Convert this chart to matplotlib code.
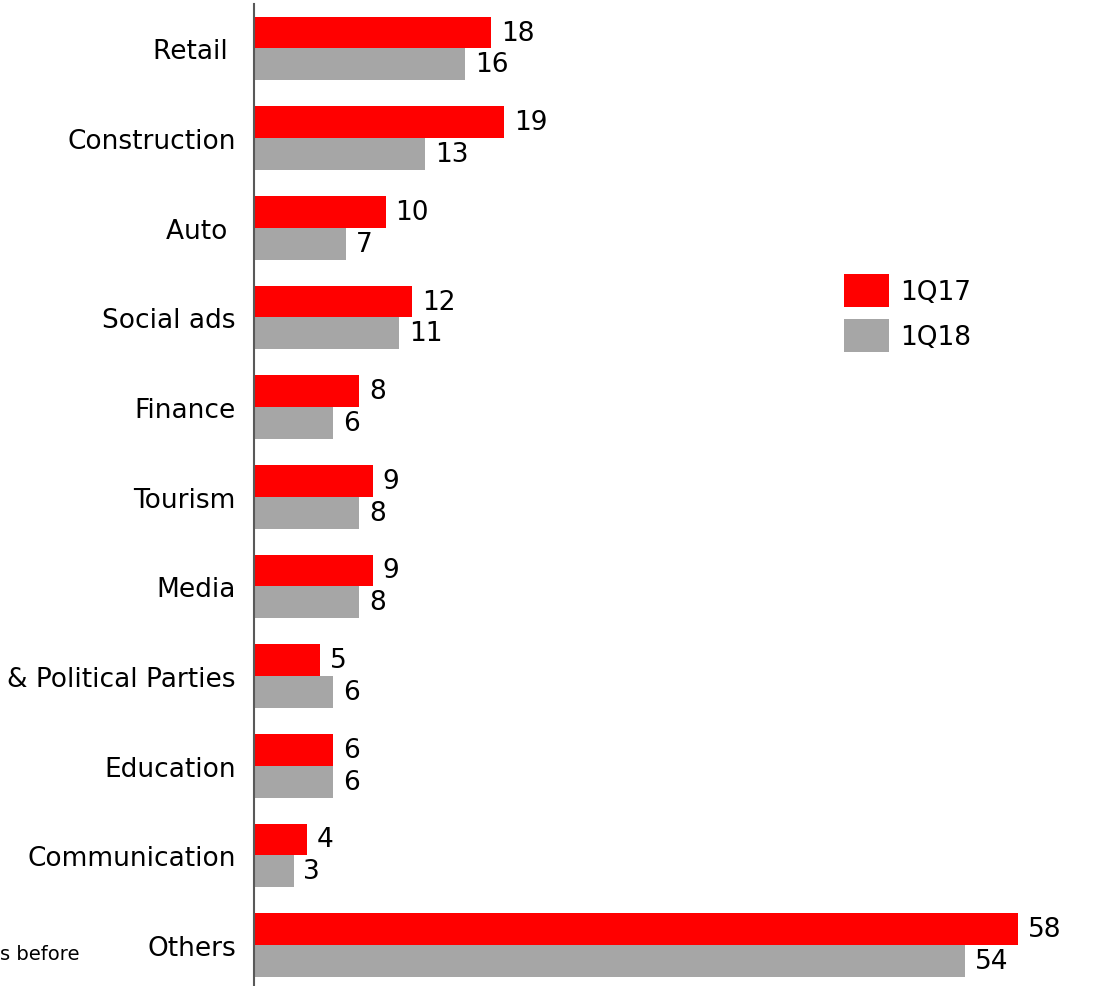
"""Horizontal grouped bars: ad spend share by sector, 1Q17 vs 1Q18."""

import matplotlib
matplotlib.use("Agg")
import matplotlib.pyplot as plt
import numpy as np


categories = ["Retail ", "Construction", "Auto ", "Social ads", "Finance", "Tourism",
              "Media", "& Political Parties", "Education", "Communication", "Others"]
q17 = [18, 19, 10, 12, 8, 9, 9, 5, 6, 4, 58]
q18 = [16, 13, 7, 11, 6, 8, 8, 6, 6, 3, 54]
series_names = ["1Q17", "1Q18"]

RED = "#FF0000"
GREY = "#A6A6A6"

plt.rcParams["font.family"] = ["DejaVu Sans"]

fig = plt.figure(figsize=(10.97, 9.87), dpi=100)
W, H = 1097, 987
ax = fig.add_axes([254 / W, 0, 1 - 254 / W, 1 - 5 / H])

n = len(categories)
y = np.arange(n)[::-1].astype(float)
h = 0.355

b1 = ax.barh(y + h / 2, q17, height=h, color=RED, label=series_names[0])
b2 = ax.barh(y - h / 2, q18, height=h, color=GREY, label=series_names[1])

for bars, vals in ((b1, q17), (b2, q18)):
    for bar, v in zip(bars, vals):
        ax.text(bar.get_width() + 0.75, bar.get_y() + bar.get_height() / 2, str(v),
                va="center", ha="left", fontsize=19)

ax.set_xlim(0, 64)
ax.set_ylim(-0.457, 10.496)
ax.set_yticks(y)
ax.set_yticklabels(categories, fontsize=19)
ax.tick_params(axis="y", length=0, pad=13)
ax.set_xticks([])
for side in ("top", "right", "bottom"):
    ax.spines[side].set_visible(False)
ax.spines["left"].set_color("#595959")
ax.spines["left"].set_linewidth(1.5)

fig.legend(handles=[b1, b2], loc="upper left", bbox_to_anchor=(820 / W, 1 - 251 / H),
           frameon=False, fontsize=19, handlelength=1.7, handleheight=1.55,
           handletextpad=0.45, labelspacing=0.47)

fig.text(80 / W, 1 - 955 / H, "s before", ha="right", va="center", fontsize=14)

fig.savefig("out.png", dpi=100)
